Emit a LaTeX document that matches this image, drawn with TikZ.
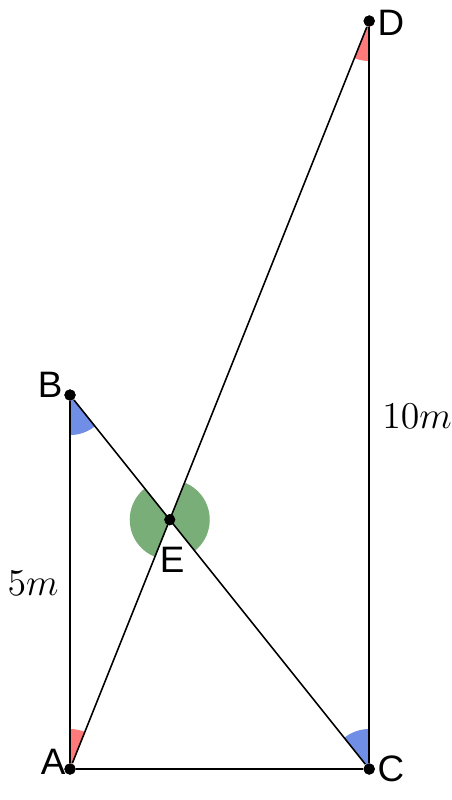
\documentclass[tikz,border=0pt]{standalone}
\usepackage{fontspec}
\usepackage{amsmath}
\usepackage{tikz}
\usetikzlibrary{angles,positioning}
\newfontfamily\lblfont{Liberation Sans}
\definecolor{angred}{RGB}{255,122,122}
\definecolor{angblue}{RGB}{112,142,230}
\definecolor{anggreen}{RGB}{122,174,120}

\begin{document}
\begin{tikzpicture}[on grid,line width=0.6pt,
  dot/.style={circle,fill=black,inner sep=0pt,minimum size=0.15cm},
  lbl/.style={font=\lblfont\fontsize{14}{16}\selectfont,inner sep=0pt},
  len/.style={font=\fontsize{13.4}{16}\selectfont,inner sep=0pt},
  ang/.style={draw=none,angle radius=0.535cm}]
  \useasboundingbox (-0.936,-0.414) rectangle (5.094,10.281);
  \draw (0, 0)node[dot](A){};
  \draw (0, 5)node[dot](B){};
  \draw (4, 0)node[dot](C){};
  \draw (4, 10)node[dot](D){};
  \draw (4/3, 10/3)node[dot](E){};
  % angle marks
  \path pic[ang,fill=angred] {angle = D--A--B};
  \path pic[ang,fill=angred] {angle = A--D--C};
  \path pic[ang,fill=angblue] {angle = A--B--C};
  \path pic[ang,fill=angblue] {angle = D--C--B};
  \path pic[ang,fill=anggreen] {angle = B--E--A};
  \path pic[ang,fill=anggreen] {angle = C--E--D};
  % sides
  \draw (A) -- (B);
  \draw (A) -- (C);
  \draw (C) -- (D);
  \draw (A) -- (D);
  \draw (B) -- (C);
  \node[dot] at (A){};
  \node[dot] at (B){};
  \node[dot] at (C){};
  \node[dot] at (D){};
  \node[dot] at (E){};
  % labels
  \node[lbl, above left=0.094cm and 0.227cm of A](la){A};
  \node[lbl, above left=0.134cm and 0.267cm of B](lb){B};
  \node[lbl, right=0.291cm of C](lc){C};
  \node[lbl, below right=0.027cm and 0.291cm of D](ld){D};
  \node[lbl, below right=0.539cm and 0.031cm of E](le){E};
  \node[len, below left=2.513cm and 0.495cm of B](lab){$5m$};
  \node[len, below right=5.281cm and 0.639cm of D](lcd){$10m$};
\end{tikzpicture}
\end{document}
